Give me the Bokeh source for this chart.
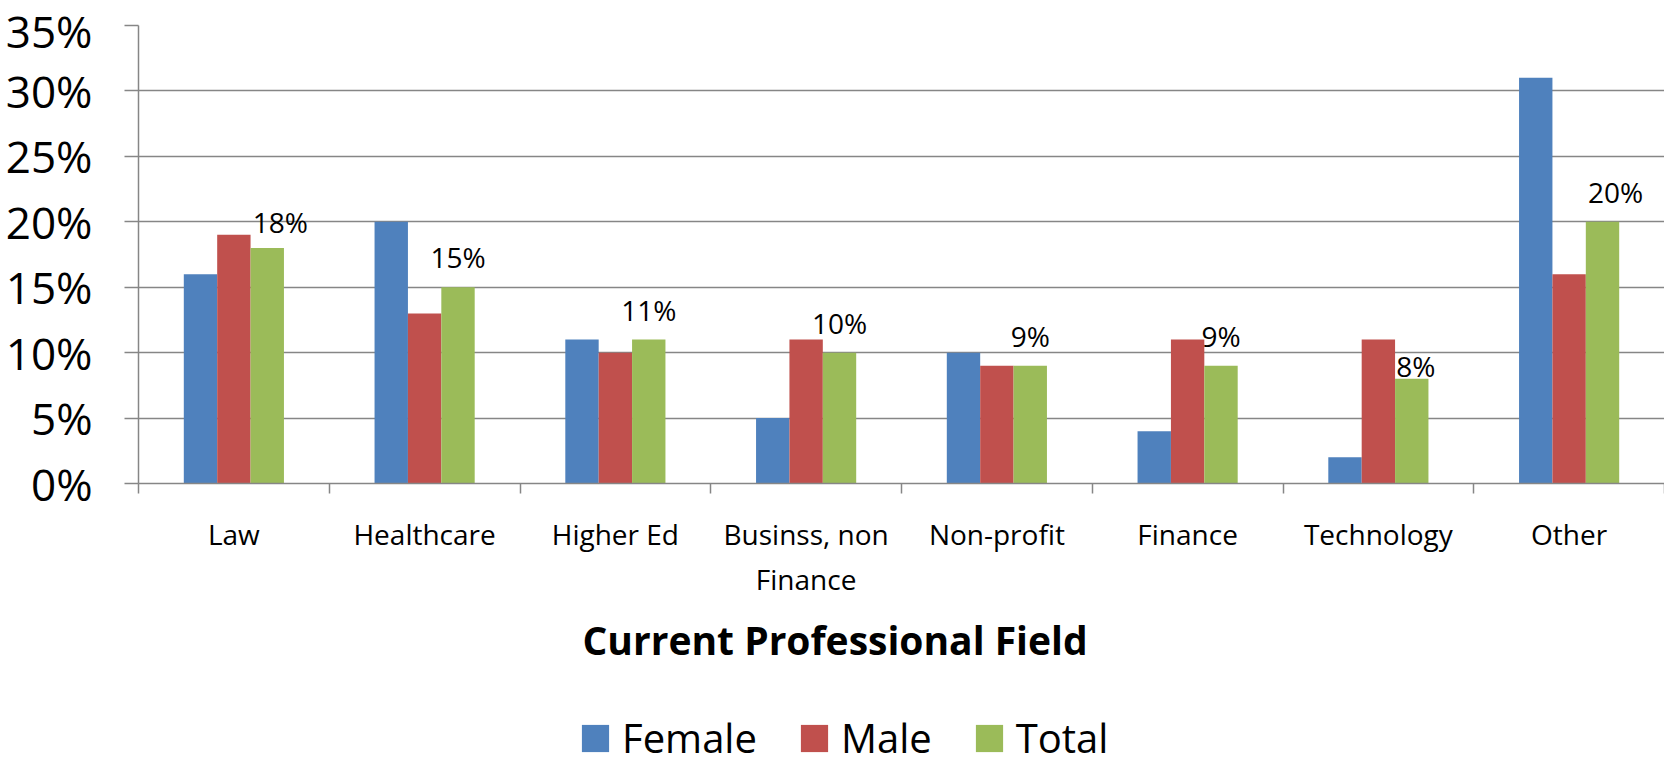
from bokeh.plotting import figure
from bokeh.layouts import column
from bokeh.models import (ColumnDataSource, Range1d, LinearAxis,
                          FixedTicker, NumeralTickFormatter, Legend, LegendItem, Title)
from bokeh.transform import dodge
from bokeh.core.properties import value
from bokeh.embed import file_html
from bokeh.resources import INLINE

# ---------------- data ----------------
categories = ["Law", "Healthcare", "Higher Ed", "Businss, non\nFinance",
              "Non-profit", "Finance", "Technology", "Other"]
female = [0.16, 0.20, 0.11, 0.05, 0.10, 0.04, 0.02, 0.31]
male = [0.19, 0.13, 0.10, 0.11, 0.09, 0.11, 0.11, 0.16]
total = [0.18, 0.15, 0.11, 0.10, 0.09, 0.09, 0.08, 0.20]
series_names = ["Female", "Male", "Total"]
y_ticks = [0.0, 0.05, 0.10, 0.15, 0.20, 0.25, 0.30, 0.35]
axis_title = "Current Professional Field"

# ---------------- style ----------------
colors = ["#4F81BD", "#C0504D", "#9BBB59"]
gray = "#868686"
font = "Open Sans"
bw = 0.175
# manual nudges of the data labels (pixels), as in the original chart
label_nudge_x = [13, 0, 0, 0, 0, 0, 4, 13]
label_nudge_y = [4, 0, 0, 0, 0, 0, 17, 0]

n = len(categories)
centers = [i + 0.5 for i in range(n)]      # category slot centres on the axis
bounds = list(range(n + 1))                # category slot boundaries

W, H1 = 1664, 684
H2 = 757 - H1

p = figure(width=W, height=H1,
           x_range=Range1d(0, n), y_range=Range1d(0, 0.35),
           x_axis_location=None, y_axis_location="left",
           output_backend="svg", toolbar_location=None,
           min_border_left=138, min_border_right=0, min_border_top=25,
           min_border_bottom=H1 - 483)
p.outline_line_color = None
p.background_fill_color = "white"
p.border_fill_color = "white"

# y axis
ya = p.yaxis[0]
ya.ticker = FixedTicker(ticks=y_ticks)
ya.formatter = NumeralTickFormatter(format="0%")
ya.major_label_text_font = font
ya.major_label_text_font_size = "44px"
ya.major_label_text_color = "black"
ya.major_tick_out = 14
ya.major_tick_in = 0
ya.minor_tick_out = 0
ya.minor_tick_in = 0
ya.axis_line_color = gray
ya.axis_line_width = 1.5
ya.major_tick_line_color = gray
ya.major_tick_line_width = 1.5
ya.major_label_standoff = 32

p.ygrid.ticker = FixedTicker(ticks=y_ticks)
p.ygrid.grid_line_color = gray
p.ygrid.grid_line_width = 1.5
p.xgrid.visible = False

# category axis: labels at slot centres, tick marks between slots
cax = LinearAxis(ticker=FixedTicker(ticks=centers, minor_ticks=bounds),
                 major_label_overrides={c: lab for c, lab in zip(centers, categories)},
                 major_tick_out=0, major_tick_in=0, minor_tick_out=10, minor_tick_in=0,
                 axis_line_color=gray, axis_line_width=1.5,
                 minor_tick_line_color=gray, minor_tick_line_width=1.5,
                 major_label_standoff=21,
                 major_label_text_font=font, major_label_text_font_size="28px",
                 major_label_text_color="black")
p.add_layout(cax, "below")

# axis title
t = Title(text=axis_title, align="left", offset=444, standoff=18,
          text_font=font, text_font_size="39px", text_font_style="bold",
          text_color="black")
p.add_layout(t, "below")

# bars
src = ColumnDataSource(dict(xc=centers, Female=female, Male=male, Total=total,
                            lbl=[f"{round(v * 100)}%" for v in total],
                            dx=label_nudge_x, dy=[d - 30 for d in label_nudge_y]))
for i, (name, c) in enumerate(zip(series_names, colors)):
    p.vbar(x=dodge("xc", (i - 1) * bw), top=name, width=bw,
           source=src, fill_color=c, line_color=None)

p.text(x=dodge("xc", bw), y="Total", text="lbl", source=src,
       x_offset="dx", y_offset="dy",
       text_align="center", text_baseline="alphabetic",
       text_font=value(font), text_font_size="28px", text_color="black")

# legend strip (below the chart); its bars lie far outside its own visible ranges
p2 = figure(width=W, height=H2, x_range=Range1d(-200, -199), y_range=Range1d(-20, -19),
            x_axis_location=None, y_axis_location=None,
            output_backend="svg", toolbar_location=None,
            min_border_left=0, min_border_right=0, min_border_top=0, min_border_bottom=0)
p2.outline_line_color = None
p2.xgrid.visible = False
p2.ygrid.visible = False
p2.background_fill_color = "white"
proxies = [p2.vbar(x=dodge("xc", (i - 1) * bw), top=nm, width=bw, source=src,
                   fill_color=c, line_color=None)
           for i, (nm, c) in enumerate(zip(series_names, colors))]
legend = Legend(items=[LegendItem(label=nm, renderers=[r]) for nm, r in zip(series_names, proxies)],
                orientation="horizontal", location=(440, -8),
                label_text_font=font, label_text_font_size="40px", label_text_color="black",
                glyph_width=34, glyph_height=34, label_standoff=10, spacing=40,
                padding=0, margin=0, border_line_color=None, background_fill_alpha=0)
p2.add_layout(legend, "center")

layout = column(p, p2, spacing=0)
open("out.html", "w").write(file_html(layout, INLINE))
